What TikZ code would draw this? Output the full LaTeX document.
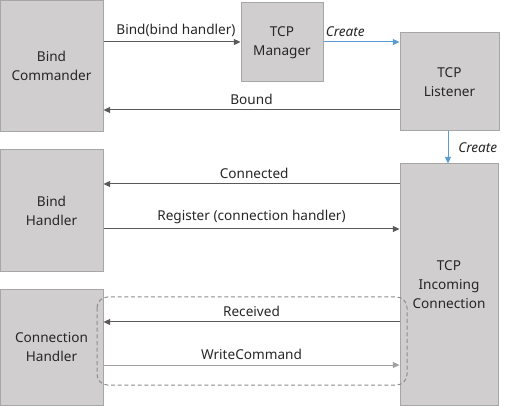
\documentclass[tikz,border=0pt]{standalone}
\usepackage{fontspec}
\setmainfont{Noto Sans}
\usetikzlibrary{arrows.meta}
\definecolor{boxfill}{HTML}{D0CECE}
\definecolor{boxline}{HTML}{A6A6A6}
\definecolor{msgline}{HTML}{595959}
\definecolor{msglight}{HTML}{A0A0A0}
\definecolor{createblue}{HTML}{5B9BD5}
\definecolor{groupline}{HTML}{8C8C8C}

\begin{document}
\begin{tikzpicture}[x=0.75pt, y=-0.75pt,
	actor/.style={draw=boxline, fill=boxfill, line width=0.75pt, align=center, inner sep=0pt, text=black!85, font=\fontsize{10.2}{14.2}\selectfont},
	msg/.style={draw=msgline, line width=0.75pt, -{Triangle[length=5pt,width=4.5pt]}},
	spawn/.style={draw=createblue, line width=0.75pt, -{Triangle[length=5pt,width=4.5pt]}},
	lbl/.style={text=black!85, font=\fontsize{10.2}{12}\selectfont}]
	\useasboundingbox (0,0) rectangle (511,406);
	% actors
	\node[actor, minimum width=77.25pt, minimum height=98.25pt] (cmd) at (51.5,66) {Bind\\Commander};
	\node[actor, minimum width=61.5pt, minimum height=59.25pt] (mgr) at (282,42.5) {TCP\\Manager};
	\node[actor, minimum width=74.25pt, minimum height=73.5pt] (lst) at (449.5,82) {TCP\\Listener};
	\node[actor, minimum width=77.25pt, minimum height=91.5pt] (bh) at (51.5,211) {Bind\\Handler};
	\node[actor, minimum width=73.5pt, minimum height=180.75pt] (inc) at (449,284.5) {TCP\\Incoming\\Connection};
	\node[actor, minimum width=77.25pt, minimum height=86.25pt] (ch) at (51.5,347.5) {Connection\\Handler};
	% group round the connection messages
	\draw[draw=groupline, line width=0.75pt, dash pattern=on 3pt off 2pt, rounded corners=8pt] (97,297) rectangle (407,385);
	% messages
	\draw[msg] (cmd.east |- 0,42) -- (mgr.west |- 0,42) node[lbl, midway, above, xshift=3pt] {Bind(bind handler)};
	\draw[spawn] (mgr.east |- 0,42) -- (lst.west |- 0,42) node[lbl, pos=0, above right, xshift=-2pt] {\itshape Create};
	\draw[msg] (lst.west |- 0,110) -- (cmd.east |- 0,110) node[lbl, midway, above] {Bound};
	\draw[spawn] (lst.south -| 448,0) -- (inc.north -| 448,0) node[lbl, midway, right, xshift=4pt] {\itshape Create};
	\draw[msg] (inc.west |- 0,184) -- (bh.east |- 0,184) node[lbl, midway, above, xshift=2pt] {Connected};
	\draw[msg] (bh.east |- 0,229) -- (inc.west |- 0,229) node[lbl, midway, above] {Register (connection handler)};
	\draw[msg] (inc.west |- 0,322) -- (ch.east |- 0,322) node[lbl, midway, above] {Received};
	\draw[msg, draw=msglight] (ch.east |- 0,365) -- (inc.west |- 0,365) node[lbl, midway, above] {WriteCommand};
\end{tikzpicture}
\end{document}
